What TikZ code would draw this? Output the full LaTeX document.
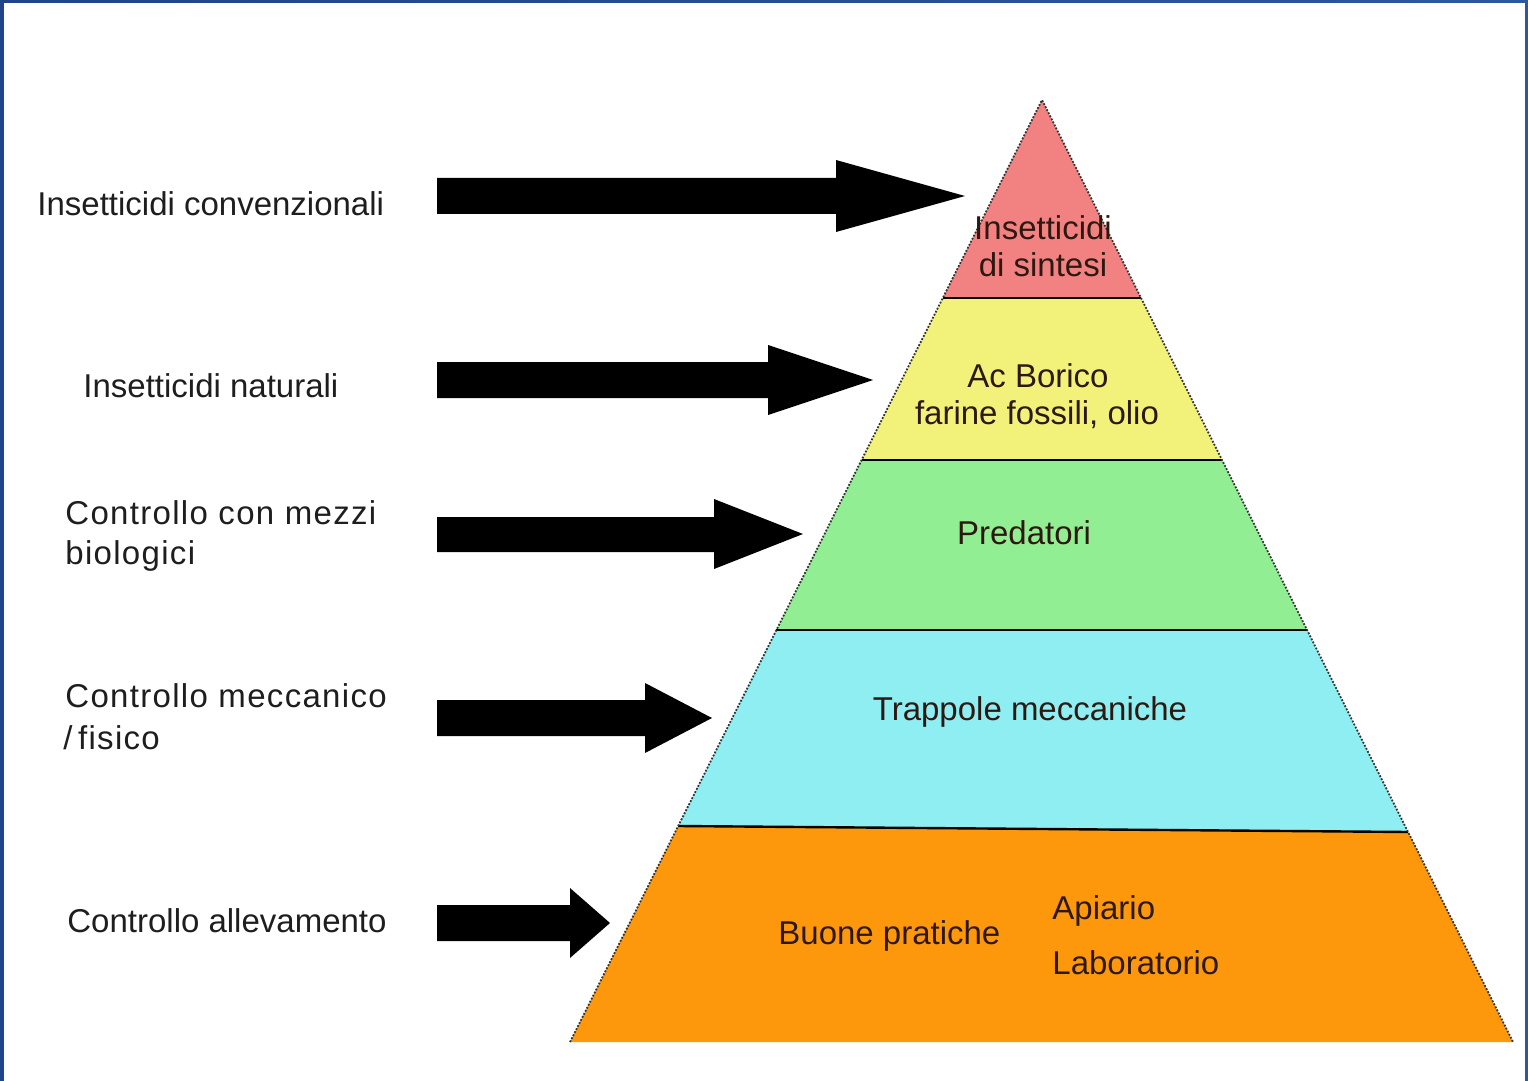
\documentclass[tikz,border=0pt]{standalone}
\usepackage{fontspec}
\setmainfont{Liberation Sans}
\newfontfamily\spacedfont[LetterSpace=4]{Liberation Sans}
\definecolor{frameblue}{RGB}{31,68,138}
\definecolor{frameblue2}{RGB}{44,88,160}
\definecolor{pred}{RGB}{242,130,130}
\definecolor{pyellow}{RGB}{242,242,122}
\definecolor{pgreen}{RGB}{146,238,146}
\definecolor{pcyan}{RGB}{142,238,242}
\definecolor{porange}{RGB}{253,152,12}
\definecolor{labeltext}{RGB}{30,30,30}
\definecolor{pyrtext}{RGB}{45,25,18}
\definecolor{edgegray}{RGB}{50,50,50}
\begin{document}
\begin{tikzpicture}[x=0.5pt,y=-0.5pt,
  lbl/.style={inner sep=0pt,text=labeltext,font=\fontsize{16.5}{20}\selectfont},
  slbl/.style={inner sep=0pt,text=labeltext,font=\spacedfont\fontsize{16.5}{20}\selectfont},
  pyr/.style={inner sep=0pt,text=pyrtext,font=\fontsize{16.5}{20}\selectfont},
  sep/.style={draw=black,line width=1.2pt},
  pyredge/.style={draw=edgegray,line width=0.9pt,dash pattern=on 0.9pt off 0.8pt},
  blockarrow/.style={fill=black}]
\useasboundingbox (0,0) rectangle (1528,1081);
\fill[white] (0,0) rectangle (1528,1081);
% frame
\fill[left color=frameblue,right color=frameblue2] (0,0) rectangle (1528,3);
\fill[frameblue] (0,0) rectangle (4,1081);
\fill[frameblue2] (1525,0) rectangle (1528,1081);

% pyramid coordinates
\coordinate (apex) at (1042,100);
\coordinate (l1) at (942.8,298);  \coordinate (r1) at (1141,298);
\coordinate (l2) at (861.6,460);  \coordinate (r2) at (1222,460);
\coordinate (l3) at (776.4,630);  \coordinate (r3) at (1307,630);
\coordinate (l4) at (678.2,826);  \coordinate (r4) at (1408,832);
\coordinate (l5) at (570,1042);   \coordinate (r5) at (1513,1042);

\fill[pred] (apex) -- (r1) -- (l1) -- cycle;
\fill[pyellow] (l1) -- (r1) -- (r2) -- (l2) -- cycle;
\fill[pgreen] (l2) -- (r2) -- (r3) -- (l3) -- cycle;
\fill[pcyan] (l3) -- (r3) -- (r4) -- (l4) -- cycle;
\fill[porange] (l4) -- (r4) -- (r5) -- (l5) -- cycle;

\draw[sep] (l1) -- (r1);
\draw[sep] (l2) -- (r2);
\draw[sep] (l3) -- (r3);
\draw[sep] (l4) -- (r4);
\draw[pyredge] (l5) -- (apex) -- (r5);

% arrows
\fill[blockarrow] (437,178) -- (836,178) -- (836,160) -- (965,196) -- (836,232) -- (836,214) -- (437,214) -- cycle;
\fill[blockarrow] (437,362) -- (768,362) -- (768,345) -- (873,380) -- (768,415) -- (768,398) -- (437,398) -- cycle;
\fill[blockarrow] (437,517) -- (714,517) -- (714,499) -- (803,534) -- (714,569) -- (714,552) -- (437,552) -- cycle;
\fill[blockarrow] (437,700) -- (645,700) -- (645,683) -- (712,718) -- (645,753) -- (645,736) -- (437,736) -- cycle;
\fill[blockarrow] (437,905) -- (570,905) -- (570,888) -- (610,923) -- (570,958) -- (570,941) -- (437,941) -- cycle;

% left labels
\node[lbl,anchor=base west] (t1) at (37,215) {Insetticidi convenzionali};
\node[lbl,anchor=base west] (t2) at (83,397) {Insetticidi naturali};
\node[slbl,anchor=base west] (t3a) at (65,524) {Controllo con mezzi};
\node[slbl,anchor=base west] (t3b) at (65,564) {biologici};
\node[slbl,anchor=base west] (t4a) at (65,707) {Controllo meccanico};
\node[slbl,anchor=base west] (t4b) at (63,749) {/\,fisico};
\node[lbl,anchor=base west] (t5) at (67,932) {Controllo allevamento};

% pyramid labels
\node[pyr,anchor=base] (p1a) at (1043,240) {Insetticidi};
\node[pyr,anchor=base] (p1b) at (1043,277) {di sintesi};
\node[pyr,anchor=base] (p2a) at (1038,387) {Ac Borico};
\node[pyr,anchor=base] (p2b) at (1037,424) {farine fossili, olio};
\node[pyr,anchor=base] (p3) at (1024,544) {Predatori};
\node[pyr,anchor=base] (p4) at (1030,720) {Trappole meccaniche};
\node[pyr,anchor=base west] (p5a) at (778,944) {Buone pratiche};
\node[pyr,anchor=base west] (p5b) at (1052,919) {Apiario};
\node[pyr,anchor=base west] (p5c) at (1052,974) {Laboratorio};
\end{tikzpicture}
\end{document}
